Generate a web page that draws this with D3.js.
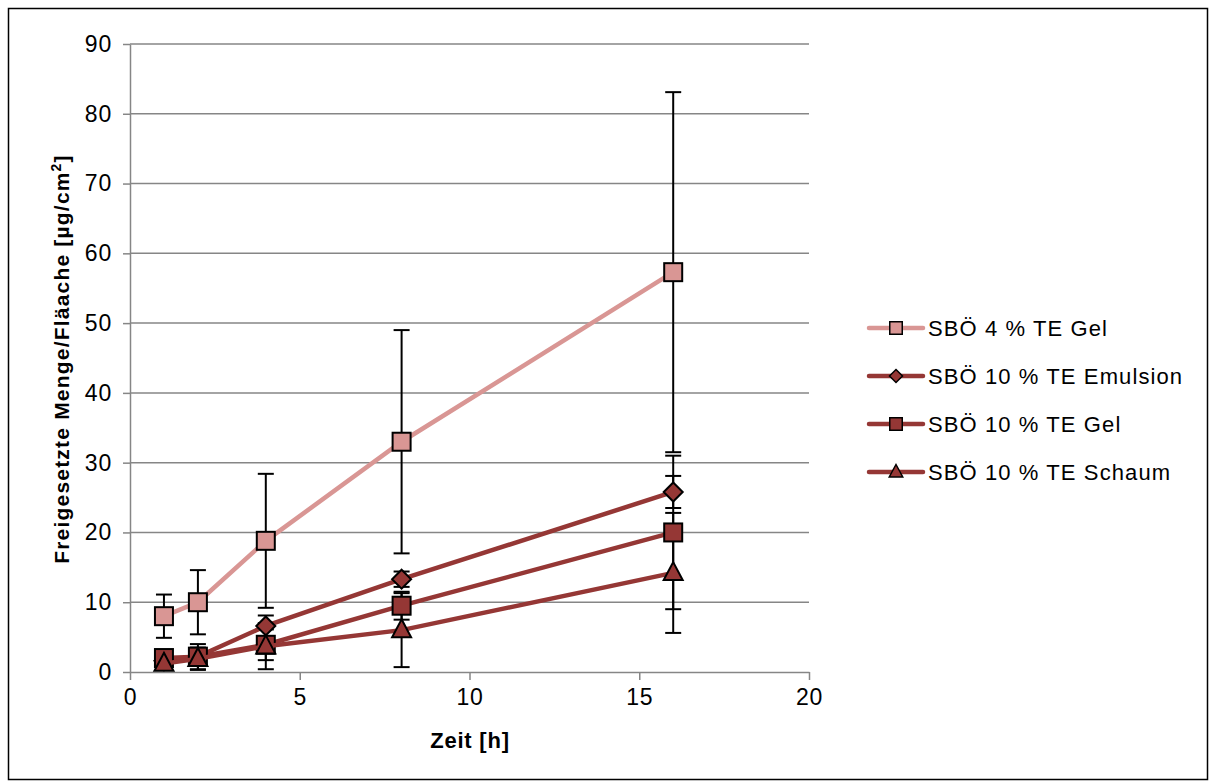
<!DOCTYPE html>
<html><head><meta charset="utf-8">
<script src="https://cdn.jsdelivr.net/npm/d3@7/dist/d3.min.js"></script>
<style>body{margin:0;background:#fff}svg{display:block;font-family:"Liberation Sans",Arial,sans-serif}</style>
</head><body><svg id="c" width="1216" height="782"></svg>
<script>
const times = [1, 2, 4, 8, 16];
const seriesNames = ["SBÖ 4 % TE Gel", "SBÖ 10 % TE Emulsion", "SBÖ 10 % TE Gel", "SBÖ 10 % TE Schaum"];
const gel4Values = [8.0, 10.0, 18.8, 33.0, 57.3];
const gel4Errors = [3.1, 4.6, 9.6, 16.0, 25.8];
const emulsionValues = [1.6, 2.2, 6.6, 13.3, 25.8];
const emulsionErrors = [0.6, 1.0, 1.5, 1.1, 2.3];
const gel10Values = [2.0, 2.2, 3.9, 9.5, 20.0];
const gel10Errors = [0.6, 1.8, 2.2, 2.0, 11.0];
const schaumValues = [1.2, 1.9, 3.7, 6.0, 14.2];
const schaumErrors = [0.9, 1.6, 3.3, 5.3, 8.6];
const xTicks = [0, 5, 10, 15, 20];
const yTicks = [0, 10, 20, 30, 40, 50, 60, 70, 80, 90];
const markerShapes = ["square", "diamond", "square", "triangle"];
const colors = ["#D99694", "#953735", "#953735", "#953735"];

const svg = d3.select("#c");
svg.append("rect").attr("x", 8.5).attr("y", 8.5).attr("width", 1199).attr("height", 771)
  .attr("fill", "#fff").attr("stroke", "#000").attr("stroke-width", 1.5);

const x = d3.scaleLinear().domain([0, 20]).range([130, 809]);
const y = d3.scaleLinear().domain([0, 90]).range([672, 44]);
const gray = "#868686";

svg.append("g").selectAll("line").data(yTicks.filter(d => d > 0)).join("line")
  .attr("x1", x(0)).attr("x2", x(20)).attr("y1", d => y(d)).attr("y2", d => y(d))
  .attr("stroke", gray).attr("stroke-width", 1.5);

const yAxis = svg.append("g").attr("transform", `translate(${x(0)},0)`)
  .call(d3.axisLeft(y).tickValues(yTicks).tickSize(7).tickPadding(11).tickSizeOuter(0));
const xAxis = svg.append("g").attr("transform", `translate(0,${y(0)})`)
  .call(d3.axisBottom(x).tickValues(xTicks).tickSize(8).tickPadding(9).tickSizeOuter(0));
[yAxis, xAxis].forEach(a => {
  a.select(".domain").attr("stroke", gray).attr("stroke-width", 1.5);
  a.selectAll(".tick line").attr("stroke", gray).attr("stroke-width", 1.5);
  a.selectAll("text").attr("font-size", 23).attr("fill", "#000").attr("letter-spacing", 0.8)
    .attr("font-family", "'Liberation Sans',Arial,sans-serif");
});

svg.append("text").attr("x", 470).attr("y", 748).attr("text-anchor", "middle")
  .attr("font-size", 22).attr("letter-spacing", 0.8).attr("font-weight", "bold").text("Zeit [h]");
const yt = svg.append("text").attr("transform", "translate(69,359) rotate(-90)")
  .attr("text-anchor", "middle").attr("font-size", 21).attr("letter-spacing", 1.2).attr("font-weight", "bold");
yt.append("tspan").text("Freigesetzte Menge/Fläache [µg/cm");
yt.append("tspan").attr("font-size", 14).attr("dy", -8).text("2");
yt.append("tspan").attr("dy", 8).text("]");

const allValues = [gel4Values, emulsionValues, gel10Values, schaumValues];
const allErrors = [gel4Errors, emulsionErrors, gel10Errors, schaumErrors];
const series = seriesNames.map((name, i) => ({
  name, color: colors[i], shape: markerShapes[i],
  pts: times.map((t, j) => ({ t, v: allValues[i][j], e: allErrors[i][j] }))
}));

function marker(sel, shape, size) {
  if (shape === "square") return sel.append("rect").attr("x", -size / 2).attr("y", -size / 2).attr("width", size).attr("height", size);
  if (shape === "diamond") { const s = size / 2; return sel.append("path").attr("d", `M0,${-s}L${s},0L0,${s}L${-s},0Z`); }
  const h = size, w = size / 2 + 0.5;
  return sel.append("path").attr("d", `M0,${-h * 0.6}L${w},${h * 0.4}L${-w},${h * 0.4}Z`);
}

const eg = svg.append("g");
series.forEach(s => {
  s.pts.forEach(p => {
    const g = eg.append("g").attr("stroke", "#000").attr("stroke-width", 2);
    g.append("line").attr("x1", x(p.t)).attr("x2", x(p.t)).attr("y1", y(p.v + p.e)).attr("y2", y(p.v - p.e));
    [p.v + p.e, p.v - p.e].forEach(v => g.append("line")
      .attr("x1", x(p.t) - 8).attr("x2", x(p.t) + 8).attr("y1", y(v)).attr("y2", y(v)));
  });
});

const line = d3.line().x(d => x(d.t)).y(d => y(d.v));
series.forEach(s => {
  svg.append("path").datum(s.pts).attr("d", line).attr("fill", "none")
    .attr("stroke", s.color).attr("stroke-width", 4.5);
  s.pts.forEach(p => {
    const g = svg.append("g").attr("transform", `translate(${x(p.t)},${y(p.v)})`);
    marker(g, s.shape, s.shape === "diamond" ? 19 : 18).attr("fill", s.color).attr("stroke", "#000").attr("stroke-width", 2);
  });
});

const lg = svg.append("g");
const legY = [328, 376, 424, 472];
series.forEach((s, i) => {
  const g = lg.append("g").attr("transform", `translate(0,${legY[i]})`);
  g.append("line").attr("x1", 869).attr("x2", 923).attr("y1", 0).attr("y2", 0)
    .attr("stroke", s.color).attr("stroke-width", 4.5).attr("stroke-linecap", "round");
  const m = g.append("g").attr("transform", "translate(896,0)");
  marker(m, s.shape, s.shape === "diamond" ? 13 : 12.5).attr("fill", s.color).attr("stroke", "#000").attr("stroke-width", 1.5);
  g.append("text").attr("x", 928).attr("y", 8).attr("font-size", 22).attr("letter-spacing", 1.1).text(s.name);
});
</script></body></html>
